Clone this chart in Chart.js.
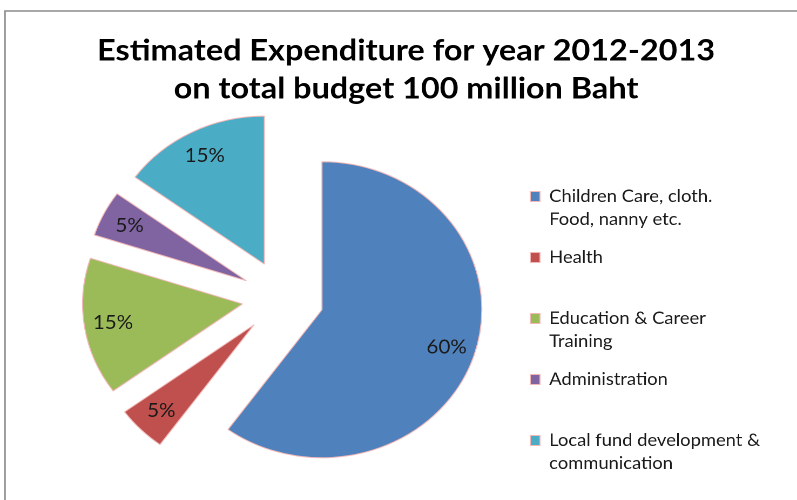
<!DOCTYPE html>
<html>
<head>
<meta charset="utf-8">
<script src="https://cdn.jsdelivr.net/npm/chart.js@4"></script>
<style>
  html, body { margin: 0; padding: 0; background: #fff; overflow: hidden; }
  canvas { display: block; }
</style>
</head>
<body>
<canvas id="c" width="738" height="500" style="width:797px;height:500px"></canvas>
<script>
// ---- data ----
const categories = [
  ['Children Care, cloth.', 'Food, nanny etc.'],
  ['Health', ''],
  ['Education & Career', 'Training'],
  ['Administration', ''],
  ['Local fund development &', 'communication']
];
const values = [60, 5, 15, 5, 15];
const titleLines = ['Estimated Expenditure for year 2012-2013', 'on total budget 100 million Baht'];

// ---- style ----
const colors = ['#4F81BD', '#C0504D', '#9BBB59', '#8064A2', '#4BACC6'];
const explode = [38, 38, 38, 38, 38];
const labelFrac = 0.82;

const framePlugin = {
  id: 'frame',
  beforeDraw(chart) {
    const ctx = chart.ctx;
    ctx.save();
    ctx.fillStyle = '#fff';
    ctx.fillRect(0, 0, chart.width, chart.height);
    ctx.strokeStyle = '#8c8c8c';
    ctx.lineWidth = 1.5;
    ctx.strokeRect(4.6, 11, chart.width + 20, chart.height + 20);
    ctx.restore();
  }
};

const explodePlugin = {
  id: 'explodeSlices',
  beforeDatasetDraw(chart, args) {
    const ctx = chart.ctx;
    args.meta.data.forEach((arc, i) => {
      const mid = (arc.startAngle + arc.endAngle) / 2;
      const d = explode[i] || 0;
      ctx.save();
      ctx.translate(Math.cos(mid) * d, Math.sin(mid) * d);
      arc.draw(ctx, chart.chartArea);
      ctx.restore();
    });
    return false;
  }
};

const labelPlugin = {
  id: 'sliceLabels',
  afterDraw(chart) {
    const ctx = chart.ctx;
    const meta = chart.getDatasetMeta(0);
    const data = chart.data.datasets[0].data;
    const total = data.reduce((a, b) => a + b, 0);
    ctx.save();
    ctx.font = '19px Lato';
    ctx.fillStyle = '#1a1a1a';
    ctx.textAlign = 'center';
    ctx.textBaseline = 'middle';
    meta.data.forEach((arc, i) => {
      const mid = (arc.startAngle + arc.endAngle) / 2;
      const r = (explode[i] || 0) + arc.outerRadius * labelFrac;
      const x = arc.x + Math.cos(mid) * r;
      const y = arc.y + Math.sin(mid) * r;
      ctx.fillText(Math.round(data[i] / total * 100) + '%', x, y);
    });
    ctx.restore();
  }
};

new Chart(document.getElementById('c'), {
  type: 'pie',
  data: {
    labels: categories,
    datasets: [{
      data: values,
      backgroundColor: colors,
      borderColor: '#f2b8b8',
      borderWidth: 1,
      radius: 148
    }]
  },
  options: {
    responsive: false,
    devicePixelRatio: 2,
    animation: false,
    layout: { padding: { left: 48, right: 34, top: 0, bottom: 7 } },
    plugins: {
      tooltip: { enabled: false },
      title: {
        display: true,
        text: titleLines,
        color: '#000',
        font: { family: 'Lato', weight: 'bold', size: 30, lineHeight: 38 / 30 },
        padding: { top: 32, bottom: -5 }
      },
      legend: {
        position: 'right',
        align: 'end',
        maxWidth: 228,
        labels: {
          color: '#1a1a1a',
          font: { family: 'Lato', size: 17, lineHeight: 23 / 17 },
          boxWidth: 9,
          boxHeight: 10,
          padding: 15
        }
      }
    }
  },
  plugins: [framePlugin, explodePlugin, labelPlugin]
});
</script>
</body>
</html>
